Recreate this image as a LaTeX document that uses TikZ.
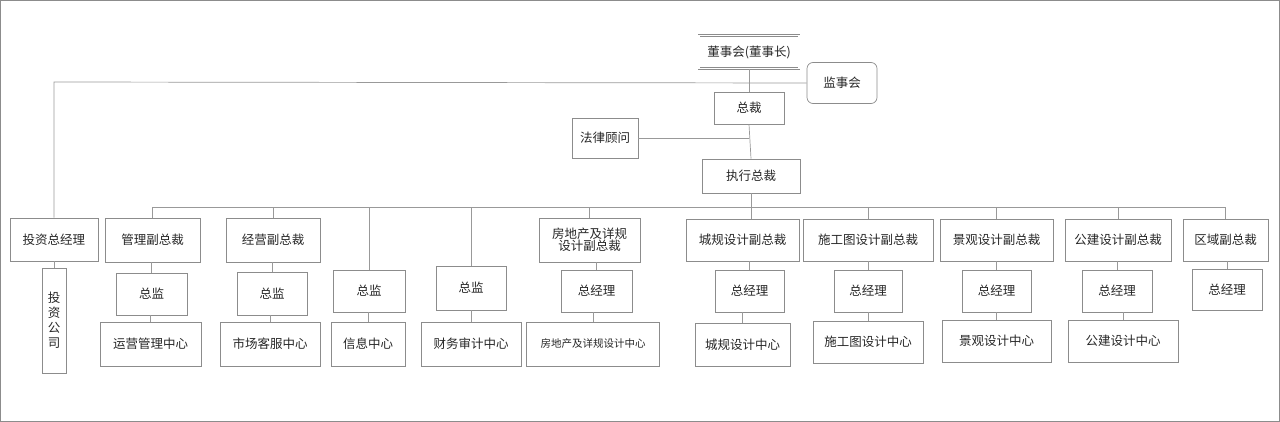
\documentclass[tikz,border=0pt]{standalone}
\usepackage{fontspec}
\setmainfont{Noto Sans CJK SC}
\begin{document}
\begin{tikzpicture}[x=1pt,y=-1pt,
  bx/.style={draw=black!45,line width=0.7pt,inner sep=1pt,align=center,font=\fontsize{12.5}{15}\selectfont,text=black!85},
  ln/.style={draw=black!40,line width=0.7pt}]
\draw[black!45,line width=1pt] (0.5,0.5) rectangle (1279.5,421.5);
\useasboundingbox (0,0) rectangle (1280,422);
\newcommand\bxat[6]{\node[bx,minimum width=#3-#2,minimum height=#5-#4] (#1) at ({(#2+#3)/2},{(#4+#5)/2}) {#6};}
% top
\node[bx,double,double distance=1.2pt,minimum width=100,minimum height=33] (dsh) at (749,52) {董事会(董事长)};
\node[bx,rounded corners=6pt,minimum width=70,minimum height=41] (jsh) at (842,83) {监事会};
\bxat{zc}{714}{784}{92}{124}{总裁}
\bxat{fl}{572}{638}{118}{158}{法律顾问}
\bxat{ex}{702}{800}{159}{193}{执行总裁}
% row 1
\bxat{tz}{10}{98}{218}{261}{投资总经理}
\bxat{tzgs}{42}{66}{268}{373}{投\\资\\公\\司}
\bxat{gl}{105}{200}{218}{262}{管理副总裁}
\bxat{jy}{226}{320}{218}{262}{经营副总裁}
\bxat{fd}{539}{640}{218}{262}{房地产及详规\\[-3pt]设计副总裁}
\bxat{cg}{686}{799}{219}{261}{城规设计副总裁}
\bxat{sg}{803}{933}{219}{261}{施工图设计副总裁}
\bxat{jg}{940}{1053}{219}{261}{景观设计副总裁}
\bxat{gj}{1065}{1171}{219}{261}{公建设计副总裁}
\bxat{qy}{1183}{1268}{219}{261}{区域副总裁}
% row 2
\bxat{zj1}{116}{187}{273}{315}{总监}
\bxat{zj2}{237}{307}{272}{315}{总监}
\bxat{zj3}{333}{405}{270}{312}{总监}
\bxat{zj4}{436}{506}{266}{310}{总监}
\bxat{zm1}{561}{632}{270}{312}{总经理}
\bxat{zm2}{715}{784}{270}{312}{总经理}
\bxat{zm3}{834}{902}{270}{312}{总经理}
\bxat{zm4}{962}{1031}{270}{312}{总经理}
\bxat{zm5}{1082}{1152}{270}{312}{总经理}
\bxat{zm6}{1192}{1262}{269}{310}{总经理}
% row 3
\bxat{c1}{100}{201}{322}{366}{运营管理中心}
\bxat{c2}{220}{320}{322}{366}{市场客服中心}
\bxat{c3}{331}{405}{322}{366}{信息中心}
\bxat{c4}{421}{521}{322}{366}{财务审计中心}
\node[bx,minimum width=133,minimum height=44,font=\fontsize{10.5}{12}\selectfont] (c5) at (593,344) {房地产及详规设计中心};
\bxat{c6}{695}{790}{323}{366}{城规设计中心}
\bxat{c7}{813}{923}{321}{363}{施工图设计中心}
\bxat{c8}{942}{1051}{320}{362}{景观设计中心}
\bxat{c9}{1068}{1178}{320}{362}{公建设计中心}
% connectors
\coordinate (bus) at (0,207);
\coordinate (top) at (0,82);
\draw[ln] (dsh.south) -- (zc.north);
\draw[ln] (zc.south) -- (ex.north);
\draw[ln] (fl.east) -- (fl.east -| zc.south);
\draw[ln] (jsh.west) -- (tz.north |- top) -- (tz.north);
\draw[ln] (tz.south) -- (tzgs.north);
\draw[ln] (gl.north |- bus) -- (qy.north |- bus) -- (qy.north);
\draw[ln] (ex.south) -- (ex.south |- bus);
\foreach \a in {gl,jy,zj3,zj4,fd,sg,jg,gj} \draw[ln] (\a.north) -- (\a.north |- bus);
\draw[ln] (cg.north -| ex.south) -- (ex.south |- bus);
\foreach \a/\b in {gl/zj1,zj1/c1,jy/zj2,zj2/c2,zj3/c3,zj4/c4,fd/zm1,zm1/c5,cg/zm2,zm2/c6,sg/zm3,zm3/c7,jg/zm4,zm4/c8,gj/zm5,zm5/c9,qy/zm6}
  \draw[ln] (\a.south -| \b.north) -- (\b.north);
\end{tikzpicture}
\end{document}
